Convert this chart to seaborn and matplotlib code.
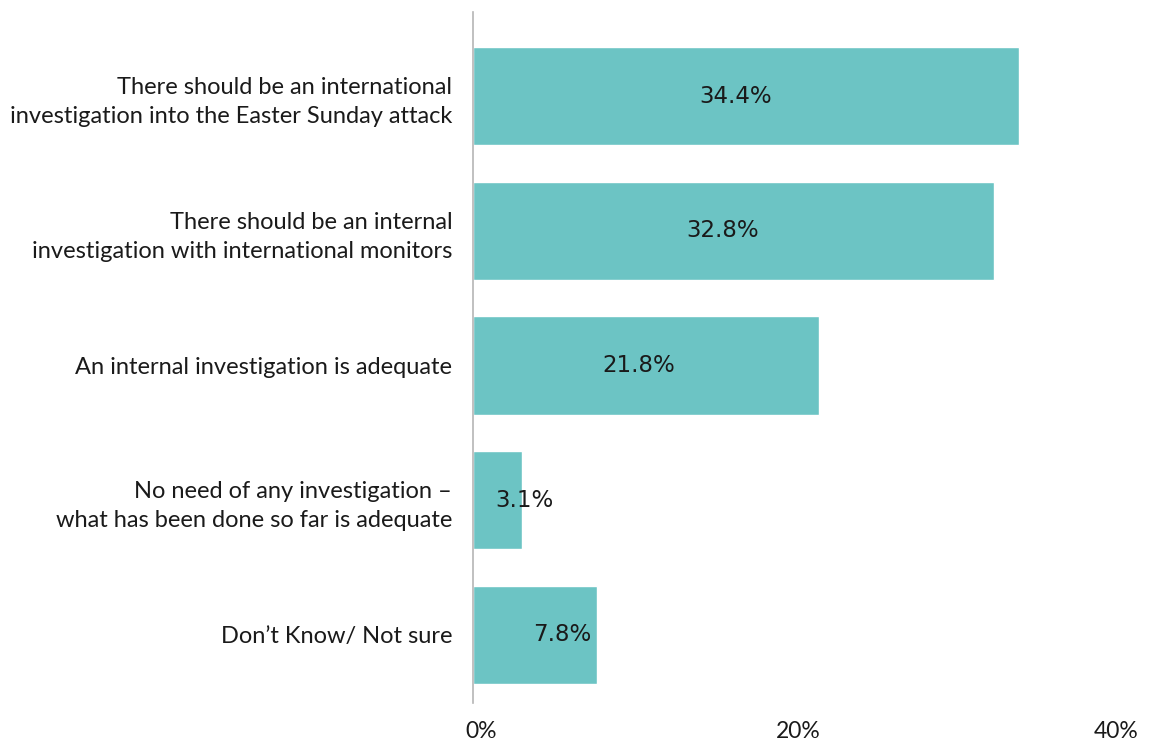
import matplotlib
matplotlib.use("Agg")
import matplotlib.pyplot as plt
import matplotlib.transforms as mtransforms
import seaborn as sns
import pandas as pd

# Survey responses on how the Easter Sunday attack should be investigated
categories = [
    "There should be an international\ninvestigation into the Easter Sunday attack",
    "There should be an internal\ninvestigation with international monitors",
    "An internal investigation is adequate",
    "No need of any investigation \u2013\nwhat has been done so far is adequate",
    "Don\u2019t Know/ Not sure",
]
shares = [34.4, 32.8, 21.8, 3.1, 7.8]
tick_values = [0, 20, 40]
tick_labels = ["0%", "20%", "40%"]

df = pd.DataFrame({"response": categories, "share": shares})

sns.set_theme(style="white")
plt.rcParams["font.family"] = ["Lato", "DejaVu Sans"]

fig = plt.figure(figsize=(11.49, 7.47), dpi=100)
ax = fig.add_axes([0.4117, 0.059, 0.5526, 0.925])

sns.barplot(data=df, x="share", y="response", orient="h", color="#6CC4C4",
            saturation=1, width=0.73, ax=ax)

ax.set_xlim(0, 40)
ax.set_ylim(4.507, -0.627)
ax.set_xticks(tick_values)
ax.set_xticklabels(tick_labels, fontsize=16.5, color="#1a1a1a")
ax.tick_params(axis="x", length=0, pad=13)
ax.tick_params(axis="y", length=0, pad=15)
ax.set_xlabel("")
ax.set_ylabel("")

shift = mtransforms.ScaledTranslation(8 / 100, 0, fig.dpi_scale_trans)
for lbl in ax.get_xticklabels():
    lbl.set_transform(lbl.get_transform() + shift)

for lbl in ax.get_yticklabels():
    lbl.set_horizontalalignment("right")
    lbl.set_multialignment("right")
    lbl.set_fontsize(17)
    lbl.set_color("#1a1a1a")
    lbl.set_linespacing(1.45)

for side in ["top", "right", "bottom"]:
    ax.spines[side].set_visible(False)
ax.spines["left"].set_color("#b5b5b5")
ax.spines["left"].set_linewidth(1.2)

# value labels inside the bars; short bars get their label nudged outward
for i, v in enumerate(shares):
    x = v * 0.48 if v > 10 else v / 2 + 1.7
    ax.text(x, i, f"{v:.1f}%", ha="center", va="center", fontsize=16.5,
            color="#1a1a1a", family=["DejaVu Sans"])

fig.savefig("out.png", dpi=100)
